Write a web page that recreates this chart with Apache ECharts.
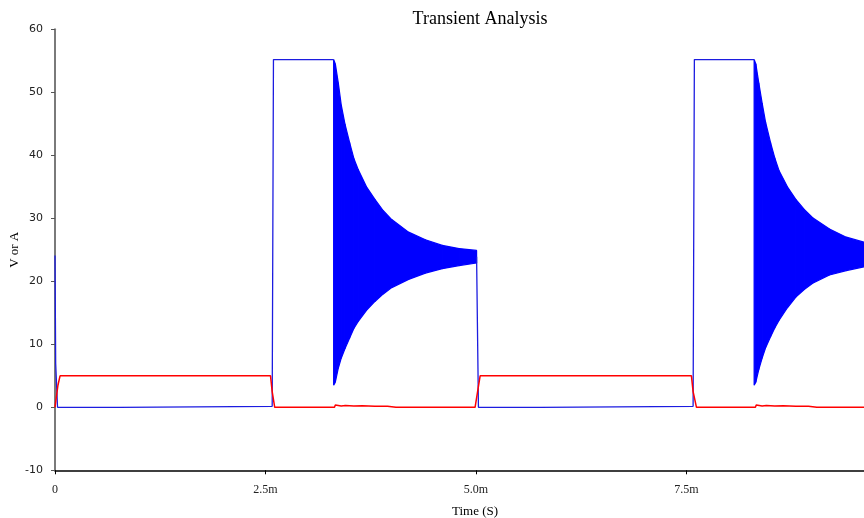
<!DOCTYPE html>
<html>
<head>
<meta charset="utf-8">
<script src="https://cdn.jsdelivr.net/npm/echarts@6/dist/echarts.min.js"></script>
<style>html,body{margin:0;padding:0;background:#fff}#c{width:864px;height:518px}</style>
</head>
<body>
<div id="c"></div>
<script>
// Time in ms (axis labels show "m" suffix)
var xTicks = [0, 2.5, 5.0, 7.5];
var yTicks = [-10, 0, 10, 20, 30, 40, 50, 60];

// Blue trace (non-oscillating parts); '-' breaks the line where the band takes over
var blueT = [0, 0.008, 0.03, 0.76, 0.77, 2.58, 2.595, 3.31, 3.315, 5.008, 5.03, 5.76, 5.77, 7.58, 7.595, 8.305];
var blueV = [24.1, 7, 0, 0, 0.15, 0.15, 55.2, 55.2, '-', 23.9, 0, 0, 0.15, 0.15, 55.2, 55.2];

// Oscillation envelope, first burst
var env1T = [3.31, 3.33, 3.365, 3.40, 3.444, 3.50, 3.55, 3.60, 3.70, 3.80, 3.90, 4.00, 4.20, 4.40, 4.60, 4.80, 5.008];
var env1Upper = [55.2, 54.5, 51.5, 48.0, 45.0, 42.0, 39.5, 37.8, 35.0, 33.0, 31.2, 29.8, 27.8, 26.6, 25.7, 25.2, 24.9];
var env1Lower = [3.5, 4.0, 6.2, 7.8, 9.3, 11.0, 12.5, 13.6, 15.4, 16.8, 18.0, 19.0, 20.3, 21.3, 22.0, 22.5, 22.9];

// Oscillation envelope, second burst
var env2T = [8.305, 8.325, 8.36, 8.40, 8.44, 8.50, 8.55, 8.60, 8.70, 8.80, 8.90, 9.00, 9.20, 9.40, 9.61];
var env2Upper = [55.2, 54.5, 51.5, 48.3, 45.3, 42.0, 39.6, 37.6, 35.0, 33.0, 31.4, 30.1, 28.3, 27.0, 26.2];
var env2Lower = [3.5, 4.0, 6.0, 7.8, 9.4, 11.2, 12.6, 13.8, 15.8, 17.5, 18.7, 19.7, 21.0, 21.7, 22.3];

// Red trace
var redT = [0, 0.01, 0.02, 0.035, 0.06, 2.56, 2.58, 2.61, 3.32, 3.33, 3.40, 3.45, 3.55, 3.65, 3.80, 3.95, 4.05, 4.99, 5.02, 5.05, 7.56, 7.58, 7.62, 8.32, 8.33, 8.40, 8.45, 8.55, 8.65, 8.80, 8.95, 9.05, 9.61];
var redV = [0, 0.3, 2, 3.5, 5, 5, 2.5, 0, 0, 0.35, 0.2, 0.3, 0.2, 0.25, 0.15, 0.15, 0, 0, 2.5, 5, 5, 2.5, 0, 0, 0.35, 0.2, 0.3, 0.2, 0.25, 0.15, 0.15, 0, 0];

function pairs(t, v) { return t.map(function (x, i) { return [x, v[i]]; }); }
// band segments: [t0, low0, up0, t1, low1, up1]
function bandSegs(t, lo, up) {
  var out = [];
  for (var i = 0; i < t.length - 1; i++) out.push([t[i], lo[i], up[i], t[i + 1], lo[i + 1], up[i + 1]]);
  return out;
}

var BLUE = '#0000ff';
var BLUE_LINE = '#1c1ce0';
var RED = '#ff0000';

function renderBand(params, api) {
  var a = api.coord([api.value(0), api.value(1)]);
  var b = api.coord([api.value(0), api.value(2)]);
  var c = api.coord([api.value(3), api.value(5)]);
  var d = api.coord([api.value(3), api.value(4)]);
  return {
    type: 'polygon',
    shape: { points: [a, b, c, d] },
    style: { fill: BLUE, stroke: BLUE, lineWidth: 1.2, lineJoin: 'bevel' }
  };
}

var bandEncode = { x: [0, 3], y: [1, 2, 4, 5] };

var chart = echarts.init(document.getElementById('c'), null, { renderer: 'canvas' });
chart.setOption({
  animation: false,
  backgroundColor: '#ffffff',
  title: {
    text: 'Transient Analysis',
    left: 475, top: 5, textAlign: 'center',
    textStyle: { fontFamily: 'Liberation Serif', fontSize: 18, fontWeight: 'normal', color: '#000' }
  },
  grid: { left: 55, right: 0, top: 29.3, bottom: 47.7, containLabel: false, outerBoundsMode: 'none' },
  xAxis: {
    type: 'value', min: 0, max: 9.61, interval: 2.5,
    name: 'Time (S)', nameLocation: 'middle', nameGap: 35, nameMoveOverlap: false,
    nameTextStyle: { fontFamily: 'Liberation Serif', fontSize: 13, color: '#000', padding: [0, 0, 0, 31] },
    axisLine: { onZero: false, lineStyle: { color: '#000', width: 1.5 } },
    axisTick: { show: true, length: 4, lineStyle: { color: '#000' } },
    axisLabel: {
      margin: 14, fontFamily: 'Liberation Serif', fontSize: 12, color: '#222', showMaxLabel: false,
      formatter: function (v) {
        var idx = xTicks.indexOf(Math.round(v * 10) / 10);
        if (idx < 0) return '';
        return v === 0 ? '0' : v.toFixed(1) + 'm';
      }
    },
    splitLine: { show: false }
  },
  yAxis: {
    type: 'value', min: yTicks[0], max: yTicks[yTicks.length - 1], interval: 10,
    name: 'V or A', nameLocation: 'middle', nameGap: 34, nameRotate: 90, nameMoveOverlap: false,
    nameTextStyle: { fontFamily: 'Liberation Serif', fontSize: 13, color: '#000' },
    axisLine: { show: true, onZero: false, lineStyle: { color: '#7a7a7a', width: 2 } },
    axisTick: { show: true, length: 4, lineStyle: { color: '#555' } },
    axisLabel: { margin: 12, fontFamily: 'DejaVu Sans', fontSize: 11, color: '#222' },
    splitLine: { show: false }
  },
  series: [
    { type: 'custom', name: 'burst1', data: bandSegs(env1T, env1Lower, env1Upper),
      encode: bandEncode, renderItem: renderBand, z: 2 },
    { type: 'custom', name: 'burst2', data: bandSegs(env2T, env2Lower, env2Upper),
      encode: bandEncode, renderItem: renderBand, z: 2 },
    { type: 'line', name: 'blue', data: pairs(blueT, blueV), showSymbol: false, symbol: 'none',
      lineStyle: { color: BLUE_LINE, width: 1.3 }, z: 3 },
    { type: 'line', name: 'red', data: pairs(redT, redV), symbol: 'none',
      lineStyle: { color: RED, width: 1.5 }, z: 4 }
  ]
});
</script>
</body>
</html>
